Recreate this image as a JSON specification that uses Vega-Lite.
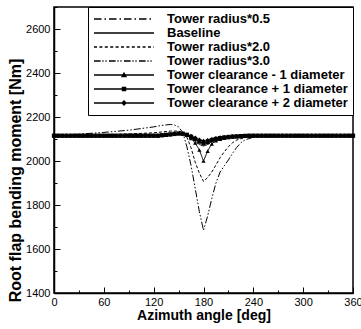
{
  "$schema": "https://vega.github.io/schema/vega-lite/v6.json",
  "width": 299,
  "height": 286,
  "autosize": {"type": "none"},
  "padding": {"left": 54, "top": 7, "right": 8, "bottom": 36},
  "background": "white",
  "config": {
    "view": {"stroke": "black", "strokeWidth": 1.5},
    "font": "Liberation Sans",
    "axis": {
      "grid": false,
      "domainColor": "black",
      "domainWidth": 1.5,
      "tickColor": "black",
      "tickWidth": 1,
      "labelFont": "Liberation Sans",
      "labelFontSize": 11,
      "labelColor": "black",
      "titleFont": "Liberation Sans",
      "titleFontSize": 14,
      "titleFontWeight": "bold",
      "titleColor": "black"
    }
  },
  "data": {
    "values": [
      {"s":"r05","x":0,"y":2114},{"s":"r05","x":60,"y":2115},{"s":"r05","x":120,"y":2118},{"s":"r05","x":140,"y":2121},{"s":"r05","x":150,"y":2122},{"s":"r05","x":160,"y":2118},{"s":"r05","x":165,"y":2112},{"s":"r05","x":170,"y":2104},{"s":"r05","x":175,"y":2096},{"s":"r05","x":180,"y":2092},{"s":"r05","x":185,"y":2096},{"s":"r05","x":190,"y":2103},{"s":"r05","x":200,"y":2109},{"s":"r05","x":220,"y":2113},{"s":"r05","x":260,"y":2114},{"s":"r05","x":360,"y":2114},

      {"s":"base","x":0,"y":2114},{"s":"base","x":60,"y":2115},{"s":"base","x":120,"y":2117},{"s":"base","x":140,"y":2120},{"s":"base","x":150,"y":2123},{"s":"base","x":155,"y":2123},{"s":"base","x":160,"y":2118},{"s":"base","x":165,"y":2106},{"s":"base","x":170,"y":2090},{"s":"base","x":175,"y":2075},{"s":"base","x":180,"y":2068},{"s":"base","x":185,"y":2075},{"s":"base","x":190,"y":2088},{"s":"base","x":195,"y":2098},{"s":"base","x":200,"y":2104},{"s":"base","x":210,"y":2110},{"s":"base","x":220,"y":2113},{"s":"base","x":240,"y":2114},{"s":"base","x":360,"y":2114},

      {"s":"r20","x":0,"y":2114},{"s":"r20","x":60,"y":2118},{"s":"r20","x":120,"y":2128},{"s":"r20","x":140,"y":2136},{"s":"r20","x":150,"y":2136},{"s":"r20","x":155,"y":2128},{"s":"r20","x":160,"y":2108},{"s":"r20","x":165,"y":2060},{"s":"r20","x":170,"y":1995},{"s":"r20","x":175,"y":1945},{"s":"r20","x":180,"y":1907},{"s":"r20","x":185,"y":1925},{"s":"r20","x":190,"y":1950},{"s":"r20","x":195,"y":1982},{"s":"r20","x":200,"y":2015},{"s":"r20","x":205,"y":2042},{"s":"r20","x":210,"y":2065},{"s":"r20","x":215,"y":2083},{"s":"r20","x":220,"y":2095},{"s":"r20","x":230,"y":2107},{"s":"r20","x":240,"y":2112},{"s":"r20","x":300,"y":2114},{"s":"r20","x":360,"y":2114},

      {"s":"r30","x":0,"y":2114},{"s":"r30","x":30,"y":2122},{"s":"r30","x":60,"y":2130},{"s":"r30","x":90,"y":2140},{"s":"r30","x":120,"y":2155},{"s":"r30","x":130,"y":2162},{"s":"r30","x":140,"y":2166},{"s":"r30","x":145,"y":2164},{"s":"r30","x":150,"y":2155},{"s":"r30","x":155,"y":2130},{"s":"r30","x":160,"y":2065},{"s":"r30","x":165,"y":1980},{"s":"r30","x":170,"y":1875},{"s":"r30","x":175,"y":1770},{"s":"r30","x":180,"y":1685},{"s":"r30","x":185,"y":1750},{"s":"r30","x":190,"y":1830},{"s":"r30","x":195,"y":1900},{"s":"r30","x":200,"y":1950},{"s":"r30","x":205,"y":1978},{"s":"r30","x":210,"y":2005},{"s":"r30","x":215,"y":2035},{"s":"r30","x":220,"y":2062},{"s":"r30","x":225,"y":2083},{"s":"r30","x":230,"y":2096},{"s":"r30","x":240,"y":2108},{"s":"r30","x":250,"y":2112},{"s":"r30","x":300,"y":2114},{"s":"r30","x":360,"y":2114},

      {"s":"cm1","x":0,"y":2115},{"s":"cm1","x":5,"y":2115},{"s":"cm1","x":10,"y":2115},{"s":"cm1","x":15,"y":2115},{"s":"cm1","x":20,"y":2115},{"s":"cm1","x":25,"y":2115},{"s":"cm1","x":30,"y":2115},{"s":"cm1","x":35,"y":2115},{"s":"cm1","x":40,"y":2115},{"s":"cm1","x":45,"y":2115},{"s":"cm1","x":50,"y":2115},{"s":"cm1","x":55,"y":2115},{"s":"cm1","x":60,"y":2115},{"s":"cm1","x":65,"y":2115},{"s":"cm1","x":70,"y":2115},{"s":"cm1","x":75,"y":2115},{"s":"cm1","x":80,"y":2115},{"s":"cm1","x":85,"y":2115},{"s":"cm1","x":90,"y":2115},{"s":"cm1","x":95,"y":2115},{"s":"cm1","x":100,"y":2115},{"s":"cm1","x":105,"y":2115},{"s":"cm1","x":110,"y":2115},{"s":"cm1","x":115,"y":2115},{"s":"cm1","x":120,"y":2115},{"s":"cm1","x":125,"y":2115},{"s":"cm1","x":130,"y":2117},{"s":"cm1","x":135,"y":2119},{"s":"cm1","x":140,"y":2121},{"s":"cm1","x":145,"y":2123},{"s":"cm1","x":150,"y":2125},{"s":"cm1","x":155,"y":2124},{"s":"cm1","x":160,"y":2118},{"s":"cm1","x":165,"y":2103},{"s":"cm1","x":170,"y":2082},{"s":"cm1","x":175,"y":2050},{"s":"cm1","x":180,"y":2000},{"s":"cm1","x":185,"y":2045},{"s":"cm1","x":190,"y":2078},{"s":"cm1","x":195,"y":2092},{"s":"cm1","x":200,"y":2099},{"s":"cm1","x":205,"y":2104},{"s":"cm1","x":210,"y":2107},{"s":"cm1","x":215,"y":2109},{"s":"cm1","x":220,"y":2111},{"s":"cm1","x":225,"y":2112},{"s":"cm1","x":230,"y":2113},{"s":"cm1","x":235,"y":2114},{"s":"cm1","x":240,"y":2115},{"s":"cm1","x":245,"y":2115},{"s":"cm1","x":250,"y":2115},{"s":"cm1","x":255,"y":2115},{"s":"cm1","x":260,"y":2115},{"s":"cm1","x":265,"y":2115},{"s":"cm1","x":270,"y":2115},{"s":"cm1","x":275,"y":2115},{"s":"cm1","x":280,"y":2115},{"s":"cm1","x":285,"y":2115},{"s":"cm1","x":290,"y":2115},{"s":"cm1","x":295,"y":2115},{"s":"cm1","x":300,"y":2115},{"s":"cm1","x":305,"y":2115},{"s":"cm1","x":310,"y":2115},{"s":"cm1","x":315,"y":2115},{"s":"cm1","x":320,"y":2115},{"s":"cm1","x":325,"y":2115},{"s":"cm1","x":330,"y":2115},{"s":"cm1","x":335,"y":2115},{"s":"cm1","x":340,"y":2115},{"s":"cm1","x":345,"y":2115},{"s":"cm1","x":350,"y":2115},{"s":"cm1","x":355,"y":2115},{"s":"cm1","x":360,"y":2115},

      {"s":"cp1","x":0,"y":2115},{"s":"cp1","x":5,"y":2115},{"s":"cp1","x":10,"y":2115},{"s":"cp1","x":15,"y":2115},{"s":"cp1","x":20,"y":2115},{"s":"cp1","x":25,"y":2115},{"s":"cp1","x":30,"y":2115},{"s":"cp1","x":35,"y":2115},{"s":"cp1","x":40,"y":2115},{"s":"cp1","x":45,"y":2115},{"s":"cp1","x":50,"y":2115},{"s":"cp1","x":55,"y":2115},{"s":"cp1","x":60,"y":2115},{"s":"cp1","x":65,"y":2115},{"s":"cp1","x":70,"y":2115},{"s":"cp1","x":75,"y":2115},{"s":"cp1","x":80,"y":2115},{"s":"cp1","x":85,"y":2115},{"s":"cp1","x":90,"y":2115},{"s":"cp1","x":95,"y":2115},{"s":"cp1","x":100,"y":2115},{"s":"cp1","x":105,"y":2115},{"s":"cp1","x":110,"y":2115},{"s":"cp1","x":115,"y":2115},{"s":"cp1","x":120,"y":2115},{"s":"cp1","x":125,"y":2115},{"s":"cp1","x":130,"y":2117},{"s":"cp1","x":135,"y":2119},{"s":"cp1","x":140,"y":2121},{"s":"cp1","x":145,"y":2123},{"s":"cp1","x":150,"y":2125},{"s":"cp1","x":155,"y":2124},{"s":"cp1","x":160,"y":2119},{"s":"cp1","x":165,"y":2110},{"s":"cp1","x":170,"y":2100},{"s":"cp1","x":175,"y":2088},{"s":"cp1","x":180,"y":2080},{"s":"cp1","x":185,"y":2086},{"s":"cp1","x":190,"y":2094},{"s":"cp1","x":195,"y":2100},{"s":"cp1","x":200,"y":2104},{"s":"cp1","x":205,"y":2107},{"s":"cp1","x":210,"y":2109},{"s":"cp1","x":215,"y":2111},{"s":"cp1","x":220,"y":2112},{"s":"cp1","x":225,"y":2113},{"s":"cp1","x":230,"y":2114},{"s":"cp1","x":235,"y":2115},{"s":"cp1","x":240,"y":2115},{"s":"cp1","x":245,"y":2115},{"s":"cp1","x":250,"y":2115},{"s":"cp1","x":255,"y":2115},{"s":"cp1","x":260,"y":2115},{"s":"cp1","x":265,"y":2115},{"s":"cp1","x":270,"y":2115},{"s":"cp1","x":275,"y":2115},{"s":"cp1","x":280,"y":2115},{"s":"cp1","x":285,"y":2115},{"s":"cp1","x":290,"y":2115},{"s":"cp1","x":295,"y":2115},{"s":"cp1","x":300,"y":2115},{"s":"cp1","x":305,"y":2115},{"s":"cp1","x":310,"y":2115},{"s":"cp1","x":315,"y":2115},{"s":"cp1","x":320,"y":2115},{"s":"cp1","x":325,"y":2115},{"s":"cp1","x":330,"y":2115},{"s":"cp1","x":335,"y":2115},{"s":"cp1","x":340,"y":2115},{"s":"cp1","x":345,"y":2115},{"s":"cp1","x":350,"y":2115},{"s":"cp1","x":355,"y":2115},{"s":"cp1","x":360,"y":2115},

      {"s":"cp2","x":0,"y":2115},{"s":"cp2","x":5,"y":2115},{"s":"cp2","x":10,"y":2115},{"s":"cp2","x":15,"y":2115},{"s":"cp2","x":20,"y":2115},{"s":"cp2","x":25,"y":2115},{"s":"cp2","x":30,"y":2115},{"s":"cp2","x":35,"y":2115},{"s":"cp2","x":40,"y":2115},{"s":"cp2","x":45,"y":2115},{"s":"cp2","x":50,"y":2115},{"s":"cp2","x":55,"y":2115},{"s":"cp2","x":60,"y":2115},{"s":"cp2","x":65,"y":2115},{"s":"cp2","x":70,"y":2115},{"s":"cp2","x":75,"y":2115},{"s":"cp2","x":80,"y":2115},{"s":"cp2","x":85,"y":2115},{"s":"cp2","x":90,"y":2115},{"s":"cp2","x":95,"y":2115},{"s":"cp2","x":100,"y":2115},{"s":"cp2","x":105,"y":2115},{"s":"cp2","x":110,"y":2115},{"s":"cp2","x":115,"y":2115},{"s":"cp2","x":120,"y":2115},{"s":"cp2","x":125,"y":2115},{"s":"cp2","x":130,"y":2117},{"s":"cp2","x":135,"y":2119},{"s":"cp2","x":140,"y":2121},{"s":"cp2","x":145,"y":2123},{"s":"cp2","x":150,"y":2125},{"s":"cp2","x":155,"y":2124},{"s":"cp2","x":160,"y":2120},{"s":"cp2","x":165,"y":2114},{"s":"cp2","x":170,"y":2106},{"s":"cp2","x":175,"y":2097},{"s":"cp2","x":180,"y":2091},{"s":"cp2","x":185,"y":2095},{"s":"cp2","x":190,"y":2100},{"s":"cp2","x":195,"y":2104},{"s":"cp2","x":200,"y":2107},{"s":"cp2","x":205,"y":2109},{"s":"cp2","x":210,"y":2111},{"s":"cp2","x":215,"y":2112},{"s":"cp2","x":220,"y":2113},{"s":"cp2","x":225,"y":2114},{"s":"cp2","x":230,"y":2115},{"s":"cp2","x":235,"y":2115},{"s":"cp2","x":240,"y":2115},{"s":"cp2","x":245,"y":2115},{"s":"cp2","x":250,"y":2115},{"s":"cp2","x":255,"y":2115},{"s":"cp2","x":260,"y":2115},{"s":"cp2","x":265,"y":2115},{"s":"cp2","x":270,"y":2115},{"s":"cp2","x":275,"y":2115},{"s":"cp2","x":280,"y":2115},{"s":"cp2","x":285,"y":2115},{"s":"cp2","x":290,"y":2115},{"s":"cp2","x":295,"y":2115},{"s":"cp2","x":300,"y":2115},{"s":"cp2","x":305,"y":2115},{"s":"cp2","x":310,"y":2115},{"s":"cp2","x":315,"y":2115},{"s":"cp2","x":320,"y":2115},{"s":"cp2","x":325,"y":2115},{"s":"cp2","x":330,"y":2115},{"s":"cp2","x":335,"y":2115},{"s":"cp2","x":340,"y":2115},{"s":"cp2","x":345,"y":2115},{"s":"cp2","x":350,"y":2115},{"s":"cp2","x":355,"y":2115},{"s":"cp2","x":360,"y":2115}
    ]
  },
  "encoding": {
    "x": {
      "field": "x",
      "type": "quantitative",
      "scale": {"domain": [0, 360], "nice": false, "zero": false},
      "axis": {
        "title": "Azimuth angle [deg]",
        "values": [0, 30, 60, 90, 120, 150, 180, 210, 240, 270, 300, 330, 360],
        "labelExpr": "datum.value % 60 === 0 ? datum.label : ''",
        "tickSize": {"condition": {"test": "datum.value % 60 === 0", "value": -6}, "value": -3},
        "labelPadding": 9,
        "labelFlush": false,
        "titlePadding": 1
      }
    },
    "y": {
      "field": "y",
      "type": "quantitative",
      "scale": {"domain": [1400, 2700], "nice": false, "zero": false},
      "axis": {
        "title": "Root flap bending moment [Nm]",
        "titleFontSize": 16,
        "titleY": 173,
        "values": [1400, 1500, 1600, 1700, 1800, 1900, 2000, 2100, 2200, 2300, 2400, 2500, 2600, 2700],
        "format": "d",
        "labelExpr": "datum.value % 200 === 0 ? datum.label : ''",
        "tickSize": {"condition": {"test": "datum.value % 200 === 0", "value": -6}, "value": -3},
        "labelPadding": 10,
        "labelFlush": false,
        "titlePadding": 2
      }
    }
  },
  "layer": [
    {
      "mark": {"type": "line", "color": "black", "strokeWidth": 1},
      "encoding": {
        "strokeDash": {
          "field": "s",
          "type": "nominal",
          "scale": {
            "domain": ["r05", "base", "r20", "r30", "cm1", "cp1", "cp2"],
            "range": [[7, 3, 1.5, 3], [1, 0], [3, 2], [7, 2, 1.5, 2, 1.5, 2], [1, 0], [1, 0], [1, 0]]
          },
          "legend": null
        }
      }
    },
    {
      "transform": [{"filter": {"field": "s", "oneOf": ["cm1", "cp1", "cp2"]}}],
      "mark": {"type": "point", "filled": true, "color": "black", "opacity": 1, "size": 18},
      "encoding": {
        "shape": {
          "field": "s",
          "type": "nominal",
          "scale": {"domain": ["cm1", "cp1", "cp2"], "range": ["triangle-up", "square", "diamond"]},
          "legend": null
        }
      }
    },
    {
      "transform": [{"filter": {"field": "x", "lt": -1}}],
      "mark": {"type": "point", "fill": "black", "stroke": "black", "strokeWidth": 1, "opacity": 1},
      "encoding": {
        "shape": {
          "field": "s",
          "type": "nominal",
          "scale": {
            "domain": ["r05", "base", "r20", "r30", "cm1", "cp1", "cp2"],
            "range": [
              "M-1,0H-0.75M-0.65,0H-0.6M-0.5,0H-0.25M-0.15,0H-0.1M0,0H0.25M0.35,0H0.4M0.5,0H0.75M0.85,0H0.9",
              "M-1,0H1",
              "M-1,0H-0.9M-0.82,0H-0.72M-0.64,0H-0.54M-0.46,0H-0.36M-0.28,0H-0.18M-0.1,0H0M0.08,0H0.18M0.26,0H0.36M0.44,0H0.54M0.62,0H0.72M0.8,0H0.9M0.98,0H1",
              "M-1,0H-0.78M-0.72,0H-0.68M-0.62,0H-0.58M-0.5,0H-0.28M-0.22,0H-0.18M-0.12,0H-0.08M0,0H0.22M0.28,0H0.32M0.38,0H0.42M0.5,0H0.72M0.78,0H0.82M0.88,0H0.92",
              "M-1,0H1M-0.06,0.05L0.06,0.05L0,-0.06Z",
              "M-1,0H1M-0.05,-0.05H0.05V0.05H-0.05Z",
              "M-1,0H1M0,-0.065L0.06,0L0,0.065L-0.06,0Z"
            ]
          },
          "legend": {
            "title": null,
            "orient": "top-right",
            "offset": 0,
            "padding": 5,
            "strokeColor": "black",
            "fillColor": "white",
            "symbolSize": 3600,
            "clipHeight": 14,
            "rowPadding": 0,
            "labelOffset": 12,
            "labelFont": "Liberation Sans",
            "labelFontSize": 13,
            "labelFontWeight": "bold",
            "labelColor": "black",
            "labelLimit": 300,
            "labelExpr": "datum.value === 'r05' ? 'Tower radius*0.5' : datum.value === 'base' ? 'Baseline' : datum.value === 'r20' ? 'Tower radius*2.0' : datum.value === 'r30' ? 'Tower radius*3.0' : datum.value === 'cm1' ? 'Tower clearance - 1 diameter' : datum.value === 'cp1' ? 'Tower clearance + 1 diameter' : 'Tower clearance + 2 diameter'",
            "encode": {
              "symbols": {
                "update": {
                  "stroke": {"value": "black"},
                  "strokeWidth": {"value": 1},
                  "fill": {"value": "black"},
                  "opacity": {"value": 1},
                  "strokeOpacity": {"value": 1},
                  "fillOpacity": {"value": 1}
                }
              }
            }
          }
        }
      }
    }
  ],
  "resolve": {"scale": {"shape": "independent"}, "legend": {"shape": "independent"}}
}
